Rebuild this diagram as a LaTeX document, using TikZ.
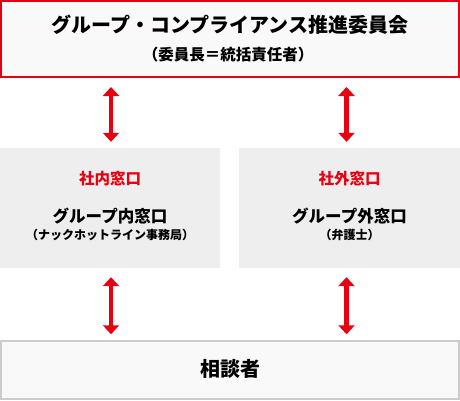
\documentclass[tikz,border=0pt]{standalone}
\usepackage{fontspec}
\setmainfont{Noto Sans CJK JP}
\usetikzlibrary{arrows.meta,positioning}
\definecolor{jred}{HTML}{E60012}
\definecolor{boxgray}{HTML}{EEEEEE}
\definecolor{paler}{HTML}{F9F9F9}
\definecolor{edge}{HTML}{CCCCCC}
\newcommand{\fs}[1]{\fontsize{#1}{#1}\selectfont}

\begin{document}
\begin{tikzpicture}[x=1pt,y=-1pt,
    panel/.style={fill=boxgray, minimum width=221pt, minimum height=120pt, inner sep=0pt},
    twoway/.style={jred, line width=4.7pt, {Triangle[width=16pt,length=9pt]}-{Triangle[width=16pt,length=9pt]}, shorten <=9pt, shorten >=6pt}]
  \useasboundingbox (0,0) rectangle (460,400);

  % top committee
  \node[draw=jred, line width=2pt, fill=paler, minimum width=458pt, minimum height=76pt, inner sep=0pt] (top) at (230,39) {};
  \node[font=\bfseries\fs{20}] (title) at (230,25) {グループ・コンプライアンス推進委員会};
  \node[font=\bfseries\fs{15.5}] (chair) at (228,55) {（委員長＝統括責任者）};

  % inner and outer desks
  \node[panel, minimum width=220pt] (inner) at (110,208) {};
  \node[panel] (outer) at (349.5,208) {};
  \node[font=\bfseries\fs{15.5}, text=jred] (innerhead) at (110,179) {社内窓口};
  \node[font=\bfseries\fs{16.5}] (innername) at (110,216) {グループ内窓口};
  \node[font=\bfseries\fs{12}] (innernote) at (110,235) {（ナックホットライン事務局）};
  \node[font=\bfseries\fs{15.5}, text=jred] (outerhead) at (349.5,179) {社外窓口};
  \node[font=\bfseries\fs{16.5}] (outername) at (349.5,216) {グループ外窓口};
  \node[font=\bfseries\fs{12}] (outernote) at (349.5,235) {（弁護士）};

  % consulter
  \node[draw=edge, line width=1.5pt, fill=paler, minimum width=458pt, minimum height=58pt, inner sep=0pt] (user) at (230,370) {};
  \node[font=\bfseries\fs{20}] (username) at (230,369) {相談者};

  \draw[twoway] ([xshift=1pt]inner.north |- top.south) -- ([xshift=1pt]inner.north);
  \draw[twoway] ([xshift=-3pt]outer.north |- top.south) -- ([xshift=-3pt]outer.north);
  \draw[twoway] ([xshift=1pt]inner.south) -- ([xshift=1pt]inner.south |- user.north);
  \draw[twoway] ([xshift=-3pt]outer.south) -- ([xshift=-3pt]outer.south |- user.north);
\end{tikzpicture}
\end{document}
